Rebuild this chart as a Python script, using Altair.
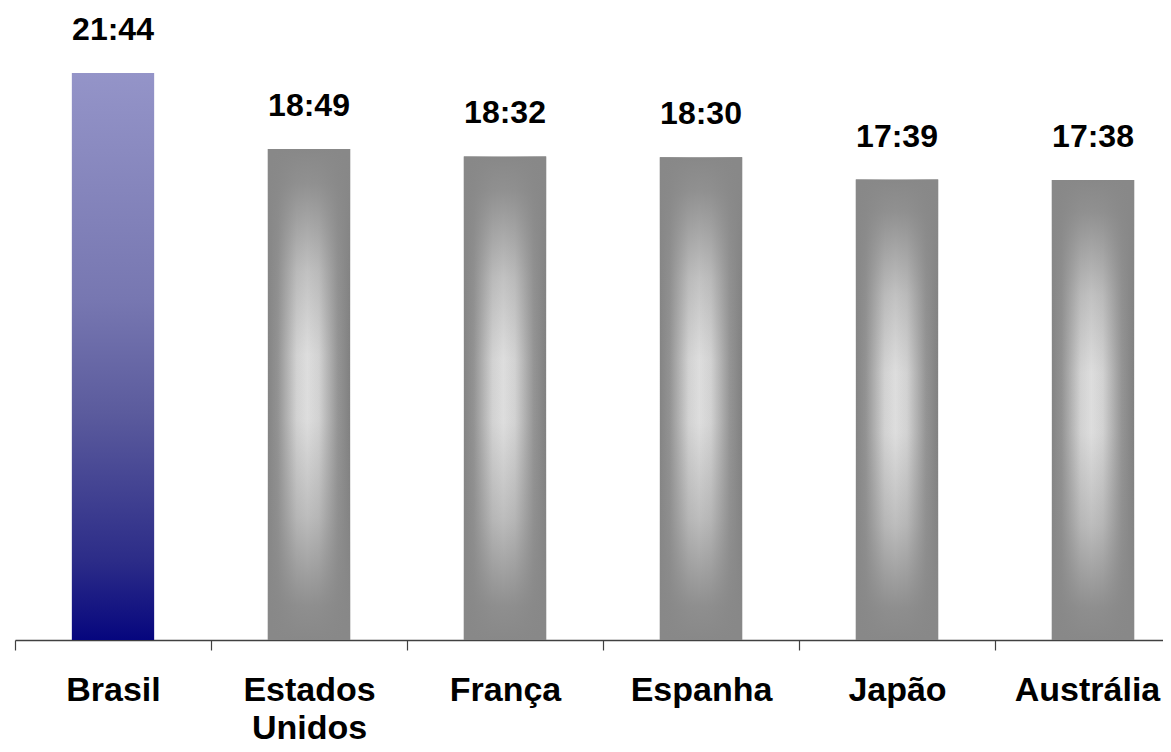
import altair as alt
import pandas as pd

countries = ["Brasil", "Estados Unidos", "França", "Espanha", "Japão", "Austrália"]
times = ["21:44", "18:49", "18:32", "18:30", "17:39", "17:38"]

minutes = [int(t.split(":")[0]) * 60 + int(t.split(":")[1]) for t in times]
df = pd.DataFrame({"pais": countries, "tempo": times, "min": minutes})

FONT = "Liberation Sans"

x_enc = alt.X(
    "pais:N",
    sort=countries,
    scale=alt.Scale(range=[0, 1176], paddingInner=0, paddingOuter=0),
    axis=alt.Axis(
        title=None,
        labelAngle=0,
        labelFont=FONT,
        labelFontWeight="bold",
        labelFontSize=34,
        labelColor="black",
        labelExpr="split(datum.label, ' ')",
        labelLineHeight=38,
        labelBaseline="alphabetic",
        labelPadding=50,
        labelOffset={"condition": {"test": "datum.label == 'Austrália'", "value": -6}, "value": 0},
        labelLimit=400,
        labelOverlap=False,
        tickBand="extent",
        tickSize=10,
        tickColor="#404040",
        tickWidth=1.2,
        domainColor="#404040",
        domainWidth=1.5,
        grid=False,
    ),
)
y_enc = alt.Y("min:Q", scale=alt.Scale(domain=[0, 1453.5]), axis=None)

base = alt.Chart(df).encode(x=x_enc, y=y_enc)
BW = alt.RelativeBandSize(0.42)

brasil = base.transform_filter("datum.pais == 'Brasil'").mark_bar(
    width=BW,
    color=alt.Gradient(
        gradient="linear", x1=0, y1=0, x2=0, y2=1,
        stops=[
            alt.GradientStop(color="#9494C8", offset=0),
            alt.GradientStop(color="#7777B1", offset=0.4),
            alt.GradientStop(color="#5B5B9D", offset=0.6),
            alt.GradientStop(color="#2C2C88", offset=0.86),
            alt.GradientStop(color="#06067E", offset=1),
        ],
    ),
)

gray_h = base.transform_filter("datum.pais != 'Brasil'").mark_bar(
    width=BW,
    color=alt.Gradient(
        gradient="linear", x1=0, y1=0, x2=1, y2=0,
        stops=[
            alt.GradientStop(color="#848484", offset=0),
            alt.GradientStop(color="#939393", offset=0.12),
            alt.GradientStop(color="#d4d4d4", offset=0.35),
            alt.GradientStop(color="#e0e0e0", offset=0.48),
            alt.GradientStop(color="#d4d4d4", offset=0.62),
            alt.GradientStop(color="#959595", offset=0.85),
            alt.GradientStop(color="#808080", offset=1),
        ],
    ),
)

gray_v = base.transform_filter("datum.pais != 'Brasil'").mark_bar(
    width=BW,
    color=alt.Gradient(
        gradient="linear", x1=0, y1=0, x2=0, y2=1,
        stops=[
            alt.GradientStop(color="rgba(136,136,136,1)", offset=0),
            alt.GradientStop(color="rgba(136,136,136,0.9)", offset=0.07),
            alt.GradientStop(color="rgba(136,136,136,0.35)", offset=0.25),
            alt.GradientStop(color="rgba(136,136,136,0.03)", offset=0.42),
            alt.GradientStop(color="rgba(136,136,136,0.03)", offset=0.55),
            alt.GradientStop(color="rgba(136,136,136,0.4)", offset=0.75),
            alt.GradientStop(color="rgba(136,136,136,0.92)", offset=0.93),
            alt.GradientStop(color="rgba(136,136,136,1)", offset=1),
        ],
    ),
)

labels = base.mark_text(
    font=FONT, fontWeight="bold", fontSize=32, color="black",
    baseline="alphabetic", dy=-33,
).encode(text="tempo:N")

chart = (
    alt.layer(brasil, gray_h, gray_v, labels)
    .properties(
        width=1148,
        height=632,
        autosize=alt.AutoSizeParams(type="none"),
        padding={"left": 7, "top": 0, "right": 0, "bottom": 104},
    )
    .configure_view(stroke=None)
)

chart.save("out.html", embed_options={"renderer": "svg", "actions": False})
